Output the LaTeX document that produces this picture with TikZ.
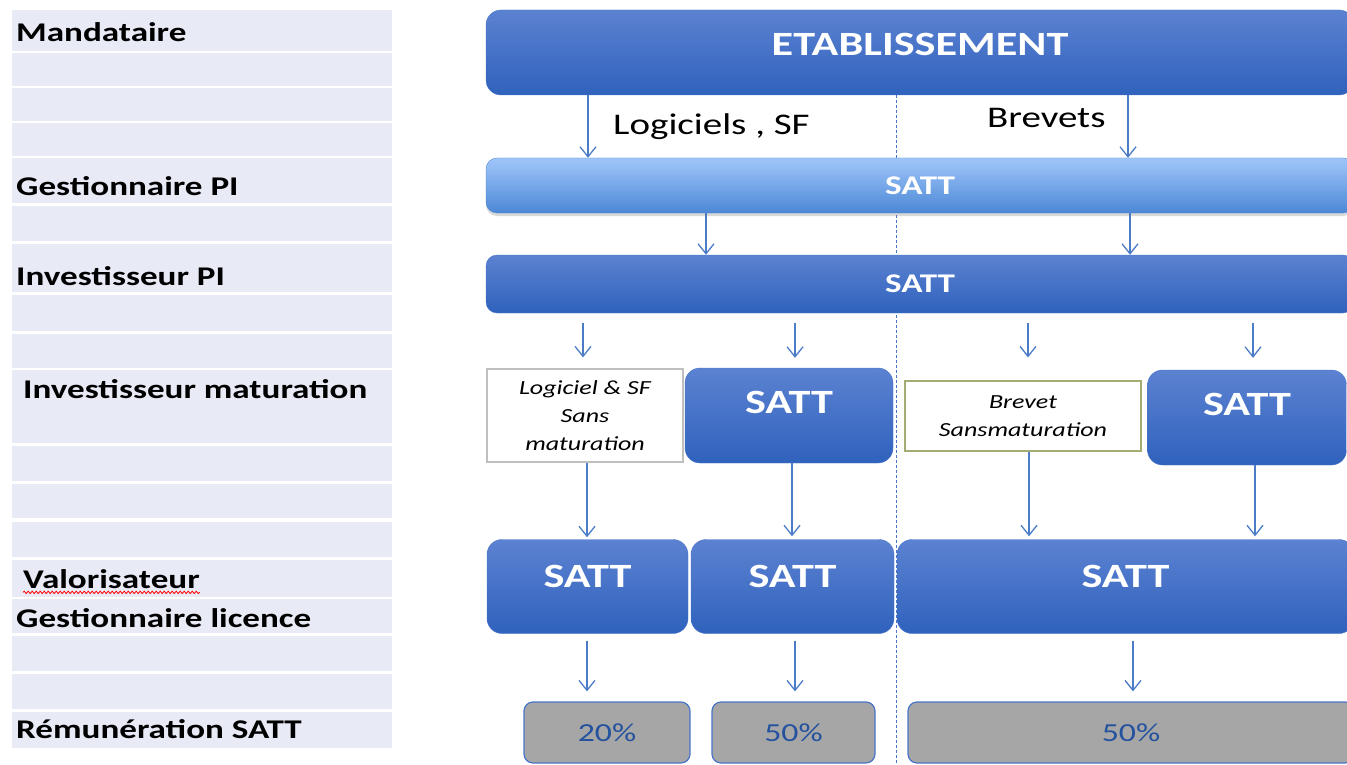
\documentclass[tikz,border=0pt]{standalone}
\usepackage{fontspec}
\setmainfont{Carlito}[FakeStretch=1.3]
\usetikzlibrary{arrows.meta,shadows,decorations.pathmorphing}

\definecolor{rowbg}{HTML}{E8EAF5}
\definecolor{boxtop}{HTML}{5C82D1}
\definecolor{boxbot}{HTML}{2F62BD}
\definecolor{boxedge}{HTML}{4A74C9}
\definecolor{lighttop}{HTML}{A0C6FA}
\definecolor{lightbot}{HTML}{4C88D6}
\definecolor{arrowblue}{HTML}{4A7CC8}
\definecolor{pctfill}{HTML}{A6A6A6}
\definecolor{pcttext}{HTML}{24529E}
\definecolor{olive}{HTML}{A4AC72}

\begin{document}
\begin{tikzpicture}[x=1pt,y=-1pt,>={Straight Barb[length=10pt,width=16pt]},
  lab/.style={anchor=base west,inner sep=0,font=\fontsize{27}{30}\selectfont\bfseries},
  flowtxt/.style={anchor=base west,inner sep=0,font=\fontsize{30}{34}\selectfont},
  bluebox/.style={rounded corners=15pt,draw=boxedge,top color=boxtop,bottom color=boxbot,
    text=white,inner sep=0,font=\fontsize{34}{40}\selectfont\bfseries},
  bar/.style={bluebox,rounded corners=11pt,font=\fontsize{27}{30}\selectfont\bfseries},
  lightbar/.style={bar,draw=lightbot,top color=lighttop,bottom color=lightbot,
    drop shadow={shadow xshift=0pt,shadow yshift=-3pt,opacity=.3}},
  nomat/.style={draw=#1,fill=white,line width=1.2pt,inner sep=0,align=center,
    font=\fontsize{20}{28}\selectfont\itshape},
  pct/.style={rounded corners=9pt,draw=boxedge,line width=1.2pt,fill=pctfill,text=pcttext,
    minimum height=61pt,inner sep=0,font=\fontsize{26}{30}\selectfont},
  arr/.style={->,draw=arrowblue,line width=1.3pt},
  divider/.style={draw=boxedge,line width=1pt,dash pattern=on 3pt off 2pt}]
\useasboundingbox (0,0) rectangle (1347,765);

% left column of roles
\foreach \a/\b in {10/51,53/86,88/121,123/156,158/203,206/241,244/292,295/331,334/368,
  370/443,446/481,484/518,522/557,560/597,599/633,636/671,674/709,712/748}
  \fill[rowbg] (12,\a) rectangle (392,\b);
\node[lab] (mand) at (16,42) {Mandataire};
\node[lab] (gpi) at (16,195) {Gestionnaire PI};
\node[lab] (ipi) at (16,285) {Investisseur PI};
\node[lab] (imat) at (23,398) {Investisseur maturation};
\node[lab] (valo) at (23,588) {Valorisateur};
\node[lab] (glic) at (16,627) {Gestionnaire licence};
\node[lab] (remu) at (16,738) {Rémunération SATT};
\draw[red,line width=.8pt,decorate,decoration={snake,amplitude=1.2pt,segment length=4pt}]
  (valo.south west) ++(0,4) coordinate (wavy) -- (valo.south east |- wavy);

% split logiciels / brevets
\coordinate (dtop) at (896,95);
\coordinate (dbot) at (896,765);
\draw[divider] (dtop) -- (dbot);

\node[bluebox,minimum width=868pt,minimum height=85pt,text depth=17pt] (etab) at (920,52.5) {ETABLISSEMENT};
\node[lightbar,minimum width=868pt,minimum height=55pt] (gest) at (920,185.5) {SATT};
\node[bar,minimum width=868pt,minimum height=58pt] (inv) at (920,284) {SATT};

\node[nomat=gray!50,minimum width=196pt,minimum height=93pt] (logi) at (585,415.5) {Logiciel \& SF\\Sans\\maturation};
\node[bluebox,minimum width=208pt,minimum height=95pt,text depth=26pt] (mat1) at (789,415.5) {SATT};
\node[nomat=olive,minimum width=236pt,minimum height=70pt] (brev) at (1023,416) {Brevet\\Sansmaturation};
\node[bluebox,minimum width=199pt,minimum height=95pt,text depth=27pt] (mat2) at (1247,417.5) {SATT};

\node[bluebox,minimum width=201pt,minimum height=94pt,text depth=21pt] (val1) at (587.5,586.5) {SATT};
\node[bluebox,minimum width=203pt,minimum height=94pt,text depth=21pt] (val2) at (792.5,586.5) {SATT};
\node[bluebox,minimum width=457pt,minimum height=94pt,text depth=21pt] (val3) at (1125.5,586.5) {SATT};

\node[pct,minimum width=166pt] (p1) at (607,732.5) {20\%};
\node[pct,minimum width=163pt] (p2) at (793.5,732.5) {50\%};
\node[pct,minimum width=446pt] (p3) at (1131,732.5) {50\%};

\node[flowtxt] (lsf) at (613,135) {Logiciels , SF};
\node[flowtxt] (brv) at (987,128) {Brevets};

% arrows: x / from / to / gap at start / gap at end
\foreach \c/\a/\b/\s/\e in {588/etab/gest/0/0,1128/etab/gest/0/0,
  706/gest/inv/0/0,1130/gest/inv/0/0,
  583/inv/logi/10/11,795/inv/mat1/10/10,1028/inv/brev/10/23,1253/inv/mat2/10/12,
  587/logi/val1/0/2,792/mat1/val2/0/3,1029/brev/val3/0/3,1255/mat2/val3/0/3,
  587/val1/p1/7/10,795/val2/p2/7/10,1133/val3/p3/7/10}
  \draw[arr,shorten <=\s pt,shorten >=\e pt] (\c,0 |- \a.south) -- (\c,0 |- \b.north);
\end{tikzpicture}
\end{document}
